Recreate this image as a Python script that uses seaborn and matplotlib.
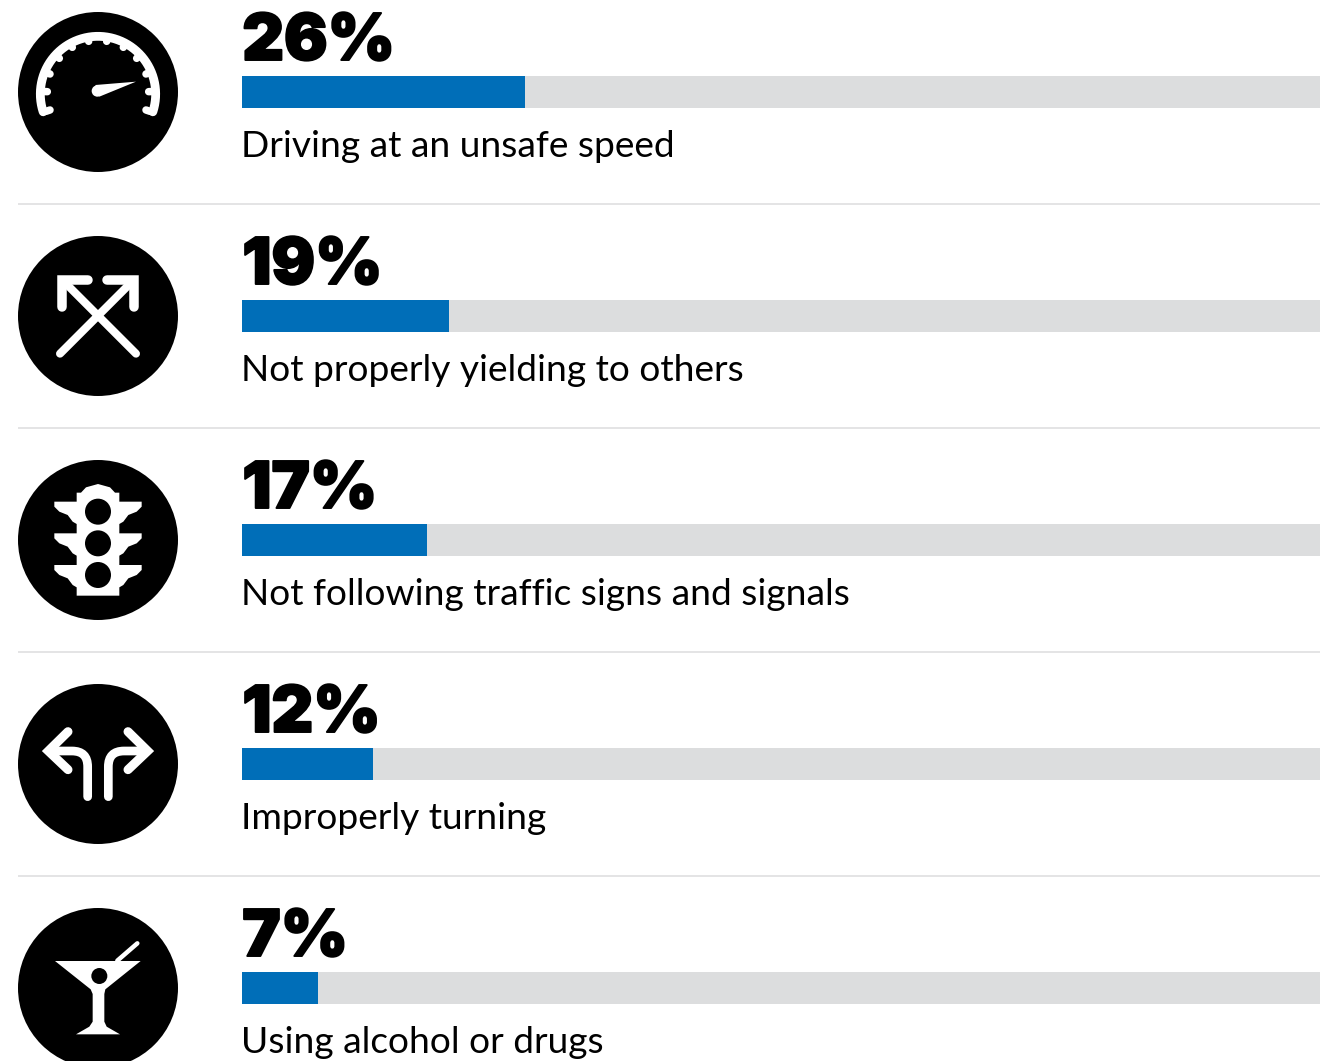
import matplotlib
matplotlib.use("Agg")
import matplotlib.pyplot as plt
import matplotlib.patheffects as pe
import numpy as np
import pandas as pd
import seaborn as sns
from matplotlib.patches import Circle, PathPatch, Polygon
from matplotlib.path import Path

causes = [
    "Driving at an unsafe speed",
    "Not properly yielding to others",
    "Not following traffic signs and signals",
    "Improperly turning",
    "Using alcohol or drugs",
]
shares = [26, 19, 17, 12, 7]
track_total = [100, 100, 100, 100, 100]

BLUE = "#006eb8"
TRACK = "#dcddde"
RULE = "#dcddde"
W, H = 1320, 1061
ROW = 224
FIRST = 92
LEFT = 242
BAR_PX = 32
PX_PER_PCT = 10.885

sns.set_theme(style="white")
plt.rcParams["font.family"] = ["Lato", "DejaVu Sans"]

fig = plt.figure(figsize=(W / 100, H / 100), dpi=100, facecolor="white")

# Icon and rule layer, measured in pixels from the top left
bg = fig.add_axes([0, 0, 1, 1])
bg.set_xlim(0, W)
bg.set_ylim(H, 0)
bg.axis("off")

# Bar layer: one category per row, percent along x
ax = fig.add_axes([LEFT / W, 0, (W - LEFT) / W, 1])
ax.patch.set_alpha(0)
frame = pd.DataFrame({"cause": causes, "share": shares, "total": track_total})
sns.barplot(data=frame, y="cause", x="total", color=TRACK, width=BAR_PX / ROW,
            saturation=1, linewidth=0, ax=ax)
sns.barplot(data=frame, y="cause", x="share", color=BLUE, width=BAR_PX / ROW,
            saturation=1, linewidth=0, ax=ax)
ax.set_xlim(0, (W - LEFT) / PX_PER_PCT)
ax.set_ylim((H - FIRST) / ROW, -FIRST / ROW)
ax.axis("off")

# The percentages get a thin outline for extra weight beyond the heaviest face
heavy = [pe.withStroke(linewidth=1.4, foreground="black")]
for i, (cause, share) in enumerate(zip(causes, shares)):
    ax.annotate(f"{share}%", xy=(0, i), xytext=(0.2, 32 * 0.72),
                textcoords="offset points", fontsize=46.5, fontweight=900,
                family="Inter", color="black", va="baseline", ha="left",
                path_effects=heavy)
    ax.annotate(cause, xy=(0, i), xytext=(-0.4, -65 * 0.72),
                textcoords="offset points", fontsize=26.7, fontweight="regular",
                color="black", va="baseline", ha="left")

for i in range(1, 5):
    bg.plot([18, W], [FIRST + ROW * i - 112] * 2, color=RULE, lw=1.1,
            solid_capstyle="butt")

CX = 98


def to_px(points, cy, ox, oy):
    pts = np.asarray(points, dtype=float)
    return np.column_stack([CX + (pts[:, 0] - ox) / 3, cy + (pts[:, 1] - oy) / 3])


def stroke(cy, ox, oy, points, width, cap="round", join="round", codes=None):
    path = Path(to_px(points, cy, ox, oy), codes)
    bg.add_patch(PathPatch(path, fc="none", ec="white", lw=width * 0.72,
                           capstyle=cap, joinstyle=join, zorder=3))


def fill(cy, ox, oy, points):
    bg.add_patch(Polygon(to_px(points, cy, ox, oy), closed=True, fc="white",
                         ec="none", zorder=3))


def dot(cy, ox, oy, x, y, r, color="black"):
    cx, yy = to_px([(x, y)], cy, ox, oy)[0]
    bg.add_patch(Circle((cx, yy), r / 3, fc=color, ec="none", zorder=4))


def gauge(cy):
    ox, oy = 294, 276
    hub = (294, 282)
    angles = np.radians(np.linspace(198, -18, 60))
    arc = [(hub[0] + 173 * np.cos(a), hub[1] - 173 * np.sin(a)) for a in angles]
    stroke(cy, ox, oy, arc, 8.8, cap="round")
    ticks = [(150, 330), (142, 275), (150, 222), (178, 175), (217, 142), (266, 124),
             (320, 124), (370, 142), (410, 175), (438, 222), (446, 275), (438, 330)]
    for tx, ty in ticks:
        dx, dy = tx - hub[0], ty - hub[1]
        n = np.hypot(dx, dy)
        stroke(cy, ox, oy, [(hub[0] + dx / n * 165, hub[1] + dy / n * 165), (tx, ty)],
               7.5)
    fill(cy, ox, oy, [(408, 245), (286, 255), (298, 290)])
    dot(cy, ox, oy, 292, 273, 17, color="white")


def crossing(cy):
    ox, oy = 294, 273
    stroke(cy, ox, oy, [(180, 386), (398, 168)], 8)
    stroke(cy, ox, oy, [(408, 386), (190, 168)], 8)
    stroke(cy, ox, oy, [(264, 164), (185, 164), (185, 245)], 9.5, join="miter")
    stroke(cy, ox, oy, [(322, 164), (403, 164), (403, 245)], 9.5, join="miter")


def signal(cy):
    ox, oy = 294, 270
    right = [(294, 102), (330, 112), (345, 128), (358, 128), (358, 155), (425, 155),
             (425, 170), (410, 185), (385, 195), (370, 215), (358, 222), (358, 250),
             (425, 250), (425, 265), (410, 280), (385, 290), (370, 310), (358, 317),
             (358, 345), (425, 345), (425, 360), (410, 375), (385, 385), (370, 405),
             (358, 412), (358, 437), (294, 437)]
    left = [(588 - x, y) for x, y in reversed(right)]
    fill(cy, ox, oy, right + left)
    for lamp_y in (185, 280, 375):
        dot(cy, ox, oy, 294, lamp_y, 39)


def turns(cy):
    ox, oy = 294, 267
    codes = [Path.MOVETO, Path.LINETO, Path.CURVE3, Path.CURVE3, Path.LINETO]
    stroke(cy, ox, oy, [(263, 365), (263, 275), (263, 228), (216, 228), (150, 228)],
           8.7, codes=codes)
    stroke(cy, ox, oy, [(325, 365), (325, 275), (325, 228), (372, 228), (438, 228)],
           8.7, codes=codes)
    stroke(cy, ox, oy, [(204, 170), (145, 228), (204, 284)], 9, join="miter")
    stroke(cy, ox, oy, [(384, 170), (443, 228), (384, 284)], 9, join="miter")


def martini(cy):
    ox, oy = 294, 294
    fill(cy, ox, oy, [(165, 213), (422, 213), (316, 298), (313, 312), (313, 395),
                      (320, 410), (360, 433), (228, 433), (268, 410), (278, 395),
                      (278, 312), (272, 298)])
    stroke(cy, ox, oy, [(352, 212), (412, 160)], 4.5)
    dot(cy, ox, oy, 298, 258, 24)


for row, icon in enumerate([gauge, crossing, signal, turns, martini]):
    cy = FIRST + ROW * row
    bg.add_patch(Circle((CX, cy), 80, fc="black", ec="none", zorder=2))
    icon(cy)

fig.savefig("out.png", dpi=100, facecolor="white")
